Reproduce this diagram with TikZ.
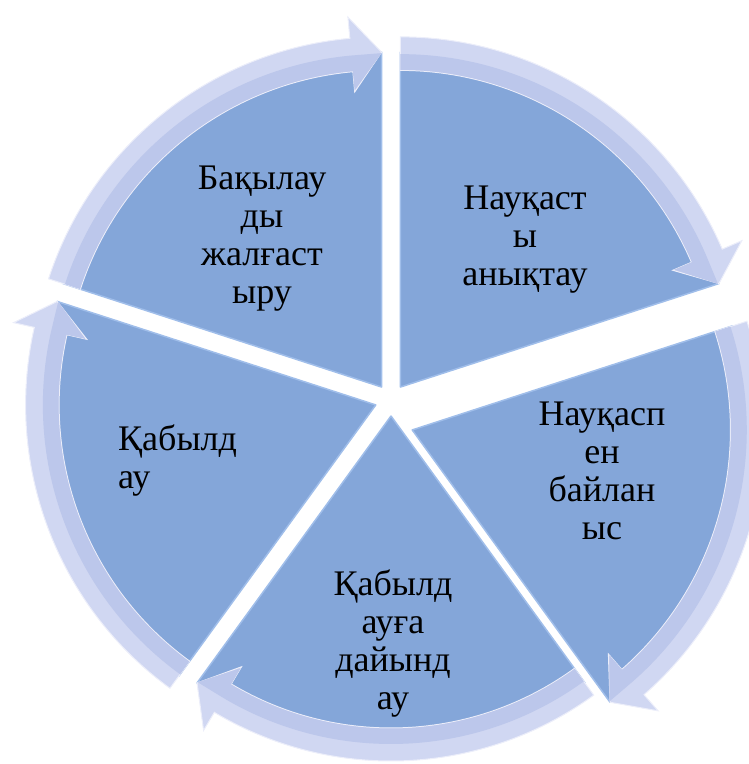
\documentclass[tikz,border=0pt]{standalone}
\usepackage{fontspec}
\setmainfont{Liberation Serif}
\newfontfamily\kzfont{Liberation Serif}
\usepackage{tikz}

\definecolor{segblue}{RGB}{132,166,217}
\definecolor{segedge}{RGB}{160,190,234}
\definecolor{bandlight}{RGB}{208,215,242}
\definecolor{banddark}{RGB}{188,199,235}
\definecolor{bandedge}{RGB}{236,238,250}

\tikzset{
  segfill/.style={fill=segblue, draw=segedge, line width=1.5pt, line join=round},
  bandouter/.style={fill=bandlight, draw=bandedge, line width=1pt, line join=miter},
  bandinner/.style={fill=banddark},
  lbl/.style={font=\kzfont\fontsize{36}{38}\selectfont, align=center, inner sep=0pt, text=black}
}

% one segment of the cycle: #1 = start angle (runs clockwise over 72 degrees),
% #2 = scale, #3 = extra shift of the segment
\newcommand{\cycleseg}[3]{%
  \begin{scope}[shift={(#1-36:16)}, shift={#3}, scale=#2]
    %wedge
    \path[segfill] (0,0) -- (#1:330) arc[start angle=#1, end angle=#1-72, radius=330] -- cycle;
    %arrow round the rim
    \path[bandouter] (#1:312) -- (#1:345) arc[start angle=#1, end angle=#1-66.8, radius=345]
      -- (#1-66.8:366) -- (#1-72:330) -- (#1-66.8:292) -- (#1-66.8:312)
      arc[start angle=#1-66.8, end angle=#1, radius=312] -- cycle;
    \path[bandinner] (#1:312.5) -- (#1:328) arc[start angle=#1, end angle=#1-66.8, radius=328]
      -- (#1-72:329) -- (#1-66.8:293.5) -- (#1-66.8:312.5)
      arc[start angle=#1-66.8, end angle=#1, radius=312.5] -- cycle;
  \end{scope}}

\begin{document}
\begin{tikzpicture}[x=1pt, y=1pt]
  \useasboundingbox (-391,-364) rectangle (357,400);
  %segments
  \cycleseg{90}{1.015}{(0,0)}
  \cycleseg{18}{1.02}{(6,-25)}
  \cycleseg{-54}{1}{(0,0)}
  \cycleseg{-126}{1.015}{(0,0)}
  \cycleseg{-198}{1.015}{(0,0)}
  %labels
  \node[lbl] (watch) at (-129,161) {Бақылау\\ды\\жалғаст\\ыру};
  \node[lbl] (find) at (134,160) {Науқаст\\ы\\анықтау};
  \node[lbl] (contact) at (211,-71) {Науқасп\\ен\\байлан\\ыс};
  \node[lbl] (prepare) at (2,-243) {Қабылд\\ауға\\дайынд\\ау};
  \node[lbl, align=left, anchor=west] (receive) at (-273,-60) {Қабылд\\ау};
\end{tikzpicture}
\end{document}
